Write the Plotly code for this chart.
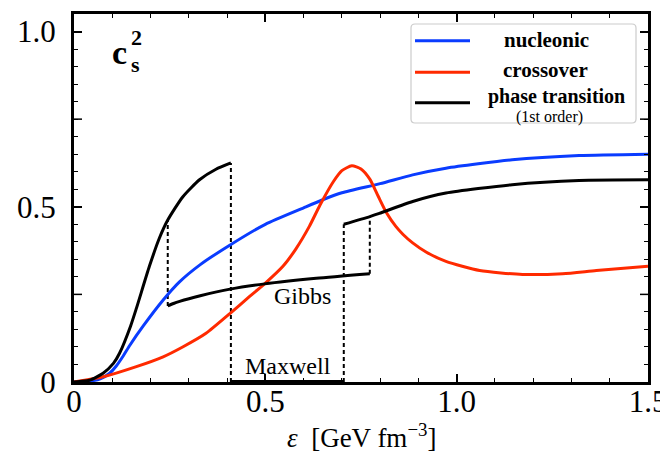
import plotly.graph_objects as go

# ---------------- data ----------------
eps_nuc = [0, 0.04, 0.07, 0.093, 0.11, 0.129, 0.146, 0.181, 0.233, 0.275, 0.33, 0.408,
           0.5, 0.6, 0.65, 0.7, 0.8, 0.885, 0.972, 1.145, 1.32, 1.5]
cs2_nuc = [0, 0.002, 0.01, 0.025, 0.045, 0.075, 0.105, 0.16, 0.234, 0.285, 0.335, 0.391,
           0.45, 0.497, 0.52, 0.54, 0.566, 0.591, 0.61, 0.634, 0.646, 0.65]

eps_cross = [0, 0.076, 0.163, 0.233, 0.284, 0.345, 0.408, 0.459, 0.498, 0.546, 0.58, 0.615,
             0.643, 0.678, 0.70, 0.726, 0.75, 0.773, 0.795, 0.817, 0.841, 0.86, 0.885, 0.92,
             0.972, 1.06, 1.172, 1.277, 1.365, 1.5]
cs2_cross = [0, 0.015, 0.044, 0.072, 0.10, 0.139, 0.196, 0.244, 0.28, 0.33, 0.38, 0.444,
             0.505, 0.572, 0.603, 0.617, 0.608, 0.579, 0.53, 0.482, 0.444, 0.421, 0.397, 0.371,
             0.344, 0.318, 0.307, 0.309, 0.318, 0.33]

# first-order phase transition: hadronic branch
eps_pt_had = [0, 0.04, 0.076, 0.103, 0.119, 0.148, 0.163, 0.197, 0.223, 0.245, 0.284, 0.328,
              0.371, 0.41]
cs2_pt_had = [0, 0.005, 0.025, 0.053, 0.082, 0.16, 0.21, 0.33, 0.41, 0.462, 0.528, 0.577,
              0.607, 0.625]
# Gibbs mixed-phase branch
eps_gibbs = [0.245, 0.26, 0.276, 0.33, 0.408, 0.498, 0.633, 0.773]
cs2_gibbs = [0.217, 0.224, 0.23, 0.246, 0.265, 0.28, 0.296, 0.309]
# quark branch
eps_pt_q = [0.705, 0.773, 0.798, 0.885, 0.972, 1.145, 1.32, 1.5]
cs2_pt_q = [0.45, 0.472, 0.481, 0.515, 0.539, 0.563, 0.575, 0.577]
# Maxwell plateau (c_s^2 = 0)
eps_maxwell = [0.41, 0.705]
cs2_maxwell = [0, 0]

# dashed connectors: (eps, c2_from, c2_to)
dash_eps = [0.245, 0.41, 0.705, 0.773]
dash_lo = [0.217, 0.0, 0.0, 0.309]
dash_hi = [0.462, 0.625, 0.45, 0.472]

legend_names = ["nucleonic", "crossover", "phase transition"]
x_ticks = [0, 0.5, 1.0, 1.5]
x_ticktext = ["0", "0.5", "1.0", "1.5"]
y_ticks = [0, 0.5, 1.0]
y_ticktext = ["0", "0.5", "1.0"]
y_unlabeled_major = [0.25, 0.75]

# ---------------- styling ----------------
BLUE = "#0a3cff"
RED = "#ff2a00"
BLACK = "#000000"
OFF = 8                      # default page body margin of the html page
PAGE_W, PAGE_H = 668, 453
W, H = PAGE_W - OFF, PAGE_H - OFF
PLOT_X0, PLOT_X1, PLOT_Y0, PLOT_Y1 = 74, 648, 14, 382   # plot area in page pixels
L, R = PLOT_X0 - OFF, PAGE_W - PLOT_X1
T, B = PLOT_Y0 - OFF, PAGE_H - PLOT_Y1
SERIF = "Liberation Serif, Times New Roman, DejaVu Serif, serif"


def px(x):
    return (x - PLOT_X0) / (PLOT_X1 - PLOT_X0)


def py(y):
    return (PLOT_Y1 - y) / (PLOT_Y1 - PLOT_Y0)


fig = go.Figure()

# dashed connectors
for e, lo, hi in zip(dash_eps, dash_lo, dash_hi):
    fig.add_trace(go.Scatter(x=[e, e], y=[lo, hi], mode="lines",
                             line=dict(color=BLACK, width=2, dash="4px,3px"),
                             showlegend=False, hoverinfo="skip"))

fig.add_trace(go.Scatter(x=eps_nuc, y=cs2_nuc, mode="lines", name=legend_names[0],
                         line=dict(color=BLUE, width=3, shape="spline", smoothing=0.6),
                         showlegend=False))
fig.add_trace(go.Scatter(x=eps_cross, y=cs2_cross, mode="lines", name=legend_names[1],
                         line=dict(color=RED, width=3, shape="spline", smoothing=0.6),
                         showlegend=False))
for ex, cy in [(eps_pt_had, cs2_pt_had), (eps_gibbs, cs2_gibbs), (eps_pt_q, cs2_pt_q)]:
    fig.add_trace(go.Scatter(x=ex, y=cy, mode="lines", name=legend_names[2],
                             line=dict(color=BLACK, width=3, shape="spline", smoothing=0.6),
                             showlegend=False))
fig.add_trace(go.Scatter(x=eps_maxwell, y=cs2_maxwell, mode="lines",
                         line=dict(color=BLACK, width=4), cliponaxis=False,
                         showlegend=False, hoverinfo="skip"))

# longer unlabeled major ticks on the y axis (both sides)
pw = PLOT_X1 - PLOT_X0
for yv in y_unlabeled_major:
    for xa, xb in [(0, 8 / pw), (1 - 8 / pw, 1)]:
        fig.add_shape(type="line", xref="paper", yref="y", x0=xa, x1=xb, y0=yv, y1=yv,
                      line=dict(color=BLACK, width=1.5), layer="above")

# ---------------- manual legend ----------------
x0, x1, y0, y1 = px(411), px(636), py(123), py(24)
rx, ry = 4 / pw, 4 / (PLOT_Y1 - PLOT_Y0)
path = (f"M {x0+rx},{y0} L {x1-rx},{y0} Q {x1},{y0} {x1},{y0+ry} "
        f"L {x1},{y1-ry} Q {x1},{y1} {x1-rx},{y1} L {x0+rx},{y1} "
        f"Q {x0},{y1} {x0},{y1-ry} L {x0},{y0+ry} Q {x0},{y0} {x0+rx},{y0} Z")
fig.add_shape(type="path", path=path, xref="paper", yref="paper",
              line=dict(color="#cccccc", width=1.2), fillcolor="white", layer="above")

leg_rows = [(40.7, BLUE), (72.3, RED), (102.7, BLACK)]
for yy, col in leg_rows:
    fig.add_shape(type="line", xref="paper", yref="paper", x0=px(415), x1=px(470),
                  y0=py(yy), y1=py(yy), line=dict(color=col, width=3), layer="above")

leg_text = [(f"<b>{legend_names[0]}</b>", 546.7, 40, 21),
            (f"<b>{legend_names[1]}</b>", 545.7, 70, 21),
            (f"<b>{legend_names[2]}</b>", 556, 97, 20),
            ("(1st order)", 549, 117, 16)]
for txt, xx, yy, fs in leg_text:
    fig.add_annotation(text=txt, x=px(xx), y=py(yy), xref="paper", yref="paper",
                       showarrow=False, xanchor="center", yanchor="middle",
                       font=dict(family=SERIF, size=fs, color=BLACK))

# c_s^2 label
fig.add_annotation(text="<b>c</b>", x=px(119), y=py(52), xref="paper", yref="paper",
                   showarrow=False, xanchor="center", yanchor="middle",
                   font=dict(family=SERIF, size=34, color=BLACK))
fig.add_annotation(text="<b>2</b>", x=px(136), y=py(38), xref="paper", yref="paper",
                   showarrow=False, xanchor="center", yanchor="middle",
                   font=dict(family=SERIF, size=22, color=BLACK))
fig.add_annotation(text="<b>s</b>", x=px(135), y=py(64), xref="paper", yref="paper",
                   showarrow=False, xanchor="center", yanchor="middle",
                   font=dict(family=SERIF, size=22, color=BLACK))

# region labels
fig.add_annotation(text="Gibbs", x=0.598, y=0.245, showarrow=False,
                   xanchor="center", yanchor="middle",
                   font=dict(family=SERIF, size=24, color=BLACK))
fig.add_annotation(text="Maxwell", x=0.559, y=0.045, showarrow=False,
                   xanchor="center", yanchor="middle",
                   font=dict(family=SERIF, size=24, color=BLACK))

# x-axis title
fig.add_annotation(text="<i>ε</i>  [GeV fm<sup>−3</sup>]", x=px(361), y=py(436),
                   xref="paper", yref="paper", showarrow=False,
                   xanchor="center", yanchor="middle",
                   font=dict(family=SERIF, size=27, color=BLACK))

axis_common = dict(showline=True, linecolor=BLACK, linewidth=3, mirror="allticks",
                   ticks="inside", ticklen=8, tickwidth=1.5, tickcolor=BLACK,
                   showgrid=False, zeroline=False, automargin=False,
                   tickfont=dict(family=SERIF, size=31, color=BLACK))

fig.update_xaxes(range=[0, 1.5], tickvals=x_ticks, ticktext=x_ticktext,
                 minor=dict(tick0=0, dtick=0.1, ticks="inside", ticklen=4,
                            tickwidth=1.2, tickcolor=BLACK),
                 ticklabelstandoff=-10, **axis_common)
fig.update_yaxes(range=[0, 1.05], tickvals=y_ticks, ticktext=y_ticktext,
                 minor=dict(tick0=0, dtick=0.05, ticks="inside", ticklen=4,
                            tickwidth=1.2, tickcolor=BLACK),
                 ticklabelstandoff=9, **axis_common)

fig.update_layout(width=W, height=H, margin=dict(l=L, r=R, t=T, b=B, autoexpand=False),
                  paper_bgcolor="white", plot_bgcolor="white", showlegend=False)

fig.write_html("out.html")
